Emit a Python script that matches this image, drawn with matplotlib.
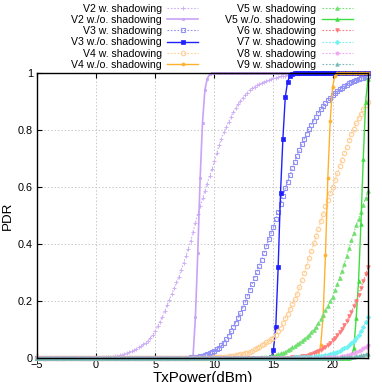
import numpy as np
import matplotlib
matplotlib.use("Agg")
import matplotlib.pyplot as plt

plt.rcParams['font.family'] = ['Liberation Sans', 'DejaVu Sans']

# ---------------- data ----------------
X_MIN, X_MAX, X_STEP = -5.0, 23.0, 0.2
tx_power = np.round(np.arange(X_MIN, X_MAX + 1e-6, X_STEP), 2)

# each series: first x of listed values, listed values, value after the list ends
v2_w_start = 0.0
v2_w_vals = [0.0005, 0.001, 0.001, 0.0015, 0.002, 0.003, 0.004, 0.005, 0.006, 0.007,
             0.009, 0.011, 0.014, 0.017, 0.020, 0.023, 0.027, 0.032, 0.037, 0.043,
             0.048, 0.054, 0.061, 0.070, 0.081, 0.095, 0.111, 0.127, 0.145, 0.165,
             0.185, 0.205, 0.225, 0.245, 0.265, 0.285, 0.309, 0.333, 0.358, 0.384,
             0.410, 0.442, 0.474, 0.504, 0.532, 0.560, 0.587, 0.612, 0.638, 0.664,
             0.690, 0.718, 0.746, 0.770, 0.792, 0.810, 0.829, 0.846, 0.862, 0.876,
             0.890, 0.901, 0.912, 0.922, 0.931, 0.940, 0.947, 0.952, 0.957, 0.961,
             0.965, 0.969, 0.973, 0.976, 0.979, 0.982, 0.984, 0.986, 0.988, 0.990,
             0.991, 0.993, 0.994, 0.995, 0.996, 0.997, 0.998, 0.999]
v2_wo_start = 8.2
v2_wo_vals = [0.005, 0.143, 0.367, 0.63, 0.826, 0.94, 0.98, 0.995]

v3_w_start = 7.4
v3_w_vals = [0.001, 0.001, 0.0015, 0.002, 0.003, 0.004, 0.005, 0.006, 0.008, 0.010,
             0.013, 0.016, 0.020, 0.024, 0.030, 0.036, 0.044, 0.054, 0.065, 0.078,
             0.093, 0.108, 0.124, 0.140, 0.158, 0.176, 0.195, 0.217, 0.240, 0.260,
             0.280, 0.301, 0.323, 0.345, 0.369, 0.393, 0.416, 0.438, 0.460, 0.486,
             0.512, 0.539, 0.567, 0.595, 0.619, 0.643, 0.666, 0.688, 0.710, 0.730,
             0.750, 0.769, 0.787, 0.805, 0.819, 0.833, 0.847, 0.860, 0.872, 0.883,
             0.894, 0.905, 0.914, 0.923, 0.930, 0.937, 0.943, 0.949, 0.955, 0.959,
             0.964, 0.968, 0.972, 0.976, 0.979, 0.982, 0.984, 0.986, 0.988]
v3_wo_start = 14.8
v3_wo_vals = [0.003, 0.028, 0.11, 0.318, 0.58, 0.768, 0.915, 0.97, 0.99, 0.997]

v4_w_start = 9.6
v4_w_vals = [0.001, 0.0015, 0.002, 0.0025, 0.003, 0.004, 0.0045, 0.005, 0.006, 0.007,
             0.008, 0.0095, 0.011, 0.013, 0.015, 0.017, 0.019, 0.022, 0.026, 0.030,
             0.034, 0.039, 0.045, 0.050, 0.055, 0.060, 0.065, 0.070, 0.082, 0.094,
             0.106, 0.122, 0.140, 0.156, 0.172, 0.189, 0.207, 0.225, 0.249, 0.273,
             0.297, 0.323, 0.350, 0.376, 0.402, 0.428, 0.454, 0.480, 0.506, 0.532,
             0.556, 0.578, 0.600, 0.624, 0.648, 0.672, 0.696, 0.720, 0.742, 0.764,
             0.785, 0.805, 0.825, 0.841, 0.857, 0.872, 0.886, 0.900]
v4_wo_start = 18.8
v4_wo_vals = [0.002, 0.045, 0.148, 0.36, 0.63, 0.83, 0.95, 0.99]

v5_w_start = 13.6
v5_w_vals = [0.001, 0.0015, 0.002, 0.0025, 0.0035, 0.0045, 0.006, 0.008, 0.0105, 0.013,
             0.016, 0.019, 0.022, 0.027, 0.032, 0.037, 0.042, 0.048, 0.054, 0.060,
             0.067, 0.074, 0.082, 0.091, 0.100, 0.110, 0.123, 0.137, 0.152, 0.167,
             0.183, 0.199, 0.215, 0.237, 0.259, 0.282, 0.306, 0.330, 0.358, 0.386,
             0.413, 0.439, 0.465, 0.489, 0.513, 0.537, 0.561, 0.585]
v5_wo_start = 21.4
v5_wo_vals = [0.001, 0.005, 0.034, 0.14, 0.27, 0.47, 0.70, 0.90, 0.98]

v6_w_start = 15.6
v6_w_vals = [0.0005, 0.0008, 0.001, 0.0013, 0.0016, 0.002, 0.0025, 0.003, 0.004, 0.0055,
             0.007, 0.0085, 0.010, 0.013, 0.016, 0.020, 0.024, 0.028, 0.034, 0.040,
             0.047, 0.054, 0.062, 0.071, 0.080, 0.090, 0.102, 0.115, 0.131, 0.146,
             0.163, 0.181, 0.200, 0.222, 0.245, 0.270, 0.293, 0.318]

v7_w_start = 16.0
v7_w_vals = [0.001, 0.0012, 0.0014, 0.0017, 0.002, 0.0023, 0.0026, 0.003, 0.0033, 0.0037,
             0.004, 0.0045, 0.005, 0.0057, 0.0065, 0.0075, 0.0085, 0.0097, 0.011, 0.013,
             0.016, 0.019, 0.022, 0.026, 0.030, 0.035, 0.040, 0.046, 0.053, 0.061,
             0.070, 0.081, 0.094, 0.108, 0.125, 0.145]

v8_w_start = 18.0
v8_w_vals = [0.0005, 0.0006, 0.0007, 0.0009, 0.001, 0.0012, 0.0015, 0.0018, 0.0022, 0.0026,
             0.003, 0.0036, 0.0043, 0.005, 0.006, 0.0075, 0.009, 0.011, 0.014, 0.017,
             0.021, 0.025, 0.029, 0.034, 0.040, 0.046]

v9_w_start = 19.0
v9_w_vals = [0.0005, 0.0006, 0.0007, 0.0008, 0.0009, 0.001, 0.0012, 0.0014, 0.0016, 0.0019,
             0.0022, 0.0027, 0.0033, 0.004, 0.005, 0.006, 0.0075, 0.0088, 0.0105, 0.0125,
             0.015]

labels = ["V2 w. shadowing", "V2 w./o. shadowing", "V3 w. shadowing", "V3 w./o. shadowing",
          "V4 w. shadowing", "V4 w./o. shadowing", "V5 w. shadowing", "V5 w./o. shadowing",
          "V6 w. shadowing", "V7 w. shadowing", "V8 w. shadowing", "V9 w. shadowing"]

x_ticks = [-5, 0, 5, 10, 15, 20]
y_ticks = [0, 0.2, 0.4, 0.6, 0.8, 1]
y_tick_labels = ["0", "0.2", "0.4", "0.6", "0.8", "1"]


def full_series(start, vals, tail):
    n_before = int(round((start - X_MIN) / X_STEP))
    n_after = len(tx_power) - n_before - len(vals)
    return np.array([0.0] * n_before + list(vals) + [tail] * n_after)


series = [
    full_series(v2_w_start, v2_w_vals, 1.0),
    full_series(v2_wo_start, v2_wo_vals, 1.0),
    full_series(v3_w_start, v3_w_vals, 1.0),
    full_series(v3_wo_start, v3_wo_vals, 1.0),
    full_series(v4_w_start, v4_w_vals, 1.0),
    full_series(v4_wo_start, v4_wo_vals, 1.0),
    full_series(v5_w_start, v5_w_vals, 1.0),
    full_series(v5_wo_start, v5_wo_vals, 1.0),
    full_series(v6_w_start, v6_w_vals, 1.0),
    full_series(v7_w_start, v7_w_vals, 1.0),
    full_series(v8_w_start, v8_w_vals, 1.0),
    full_series(v9_w_start, v9_w_vals, 1.0),
]

# ---------------- style ----------------
styles = [
    dict(color='#cfb0f7', ls=(0, (1.5, 1.5)), lw=0.8, marker='+', ms=3, mew=0.7, mfc='#cfb0f7'),
    dict(color='#c9a3f5', ls='-', lw=1.2, marker='s', ms=2, mew=0.5, mfc='#c9a3f5'),
    dict(color='#9090f5', ls=(0, (1.5, 1.5)), lw=0.8, marker='s', ms=3, mew=0.8, mfc='none'),
    dict(color='#1f1fff', ls='-', lw=1.0, marker='s', ms=2.2, mew=0.5, mfc='#1f1fff'),
    dict(color='#ffcf95', ls=(0, (1.5, 1.5)), lw=0.8, marker='o', ms=3.2, mew=0.8, mfc='none'),
    dict(color='#ffb12e', ls='-', lw=1.0, marker='o', ms=2.2, mew=0.5, mfc='#ffb12e'),
    dict(color='#70e070', ls=(0, (1.5, 1.5)), lw=0.8, marker='^', ms=2.6, mew=0.6, mfc='#70e070'),
    dict(color='#3ede3e', ls='-', lw=1.0, marker='^', ms=2.6, mew=0.5, mfc='#3ede3e'),
    dict(color='#ff7a7a', ls=(0, (1.5, 1.5)), lw=0.8, marker='v', ms=2.6, mew=0.6, mfc='#ff7a7a'),
    dict(color='#6ef2f2', ls=(0, (1.5, 1.5)), lw=0.8, marker='D', ms=2.2, mew=0.6, mfc='#6ef2f2'),
    dict(color='#f2a6f2', ls=(0, (1.5, 1.5)), lw=0.8, marker='p', ms=2.6, mew=0.6, mfc='#f2a6f2'),
    dict(color='#7ab8b8', ls=(0, (1.5, 1.5)), lw=0.8, marker='^', ms=2.4, mew=0.6, mfc='#7ab8b8'),
]

fig = plt.figure(figsize=(3.82, 3.82), dpi=100)
ax = fig.add_axes([37 / 382, 1 - 358 / 382, (368 - 37) / 382, (358 - 73) / 382])

for y, lab, st in zip(series, labels, styles):
    ax.plot(tx_power, y, label=lab, color=st['color'], ls=st['ls'], lw=st['lw'],
            marker=st['marker'], ms=st['ms'], mew=st['mew'], mfc=st['mfc'],
            mec=st['color'], clip_on=False, zorder=3)

ax.set_xlim(X_MIN, X_MAX)
ax.set_ylim(0, 1)
ax.set_xticks(x_ticks)
ax.set_yticks(y_ticks)
ax.set_yticklabels(y_tick_labels)
ax.tick_params(direction='in', top=True, right=True, length=3.5, width=0.8,
               labelsize=7.8, colors='black')
ax.tick_params(axis='x', pad=1.5)
ax.tick_params(axis='y', pad=3)
ax.grid(True, color='#c8c8c8', ls=(0, (1.5, 2)), lw=0.7)
ax.set_axisbelow(True)
for sp in ax.spines.values():
    sp.set_linewidth(1.0)
    sp.set_color('black')
    sp.set_zorder(5)

ax.set_xlabel("TxPower(dBm)", fontsize=10.8, labelpad=0.5)
ax.set_ylabel("PDR", fontsize=9.6, labelpad=3)

leg = fig.legend(loc='upper right', bbox_to_anchor=(352.5 / 382, 1 - 3.5 / 382),
                 ncol=2, markerfirst=False, frameon=False, fontsize=7.6,
                 handlelength=2.9, handletextpad=0.55, columnspacing=2.6,
                 labelspacing=0.12, borderpad=0, borderaxespad=0, numpoints=1)

fig.savefig("out.png", dpi=100)
